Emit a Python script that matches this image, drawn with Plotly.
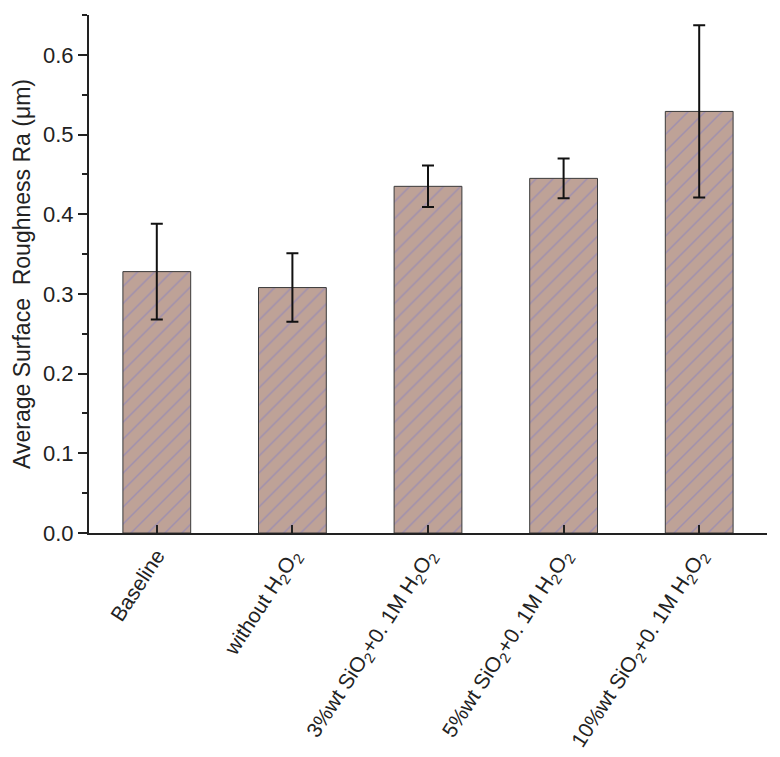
import plotly.graph_objects as go

categories = [
    "Baseline",
    "without H<sub>2</sub>O<sub>2</sub>",
    "3%wt SiO<sub>2</sub>+0. 1M H<sub>2</sub>O<sub>2</sub>",
    "5%wt SiO<sub>2</sub>+0. 1M H<sub>2</sub>O<sub>2</sub>",
    "10%wt SiO<sub>2</sub>+0. 1M H<sub>2</sub>O<sub>2</sub>",
]
ra_values = [0.328, 0.308, 0.435, 0.445, 0.529]
ra_errors = [0.060, 0.043, 0.026, 0.025, 0.108]
y_ticks = [0.0, 0.1, 0.2, 0.3, 0.4, 0.5, 0.6]

fig = go.Figure()
fig.add_trace(go.Bar(
    x=categories,
    y=ra_values,
    width=0.5,
    marker=dict(
        color="#bea297",
        line=dict(color="#3a3a3a", width=1),
        pattern=dict(shape="/", fgcolor="#7f7cc6", bgcolor="#bea297", size=12, solidity=0.12),
    ),
    error_y=dict(type="data", array=ra_errors, visible=True, color="#111", thickness=2, width=6),
))

font_family = "Liberation Sans, Arial, sans-serif"
fig.update_layout(
    width=772, height=749,
    margin=dict(l=81, r=13, t=7, b=224),
    paper_bgcolor="white", plot_bgcolor="white",
    showlegend=False,
    font=dict(family=font_family, color="#222", size=20),
)
fig.update_xaxes(
    range=[-0.5, 4.5],
    showline=True, linecolor="#222", linewidth=2,
    ticks="inside", ticklen=8, tickcolor="#222", tickwidth=1.5,
    tickangle=-57, tickfont=dict(size=21),
    showgrid=False, zeroline=False, automargin=False,
)
fig.update_yaxes(
    range=[0, 0.65],
    tickvals=y_ticks, tickformat=".1f",
    showline=True, linecolor="#222", linewidth=2,
    ticks="outside", ticklen=9, tickcolor="#222", tickwidth=1.5,
    minor=dict(dtick=0.05, ticks="outside", ticklen=5, tickcolor="#222", tickwidth=1.5),
    tickfont=dict(size=22),
    title=dict(text="Average Surface&nbsp;&nbsp;Roughness Ra (μm)", font=dict(size=23), standoff=6),
    showgrid=False, zeroline=False, automargin=False,
)

fig.write_html("out.html")
